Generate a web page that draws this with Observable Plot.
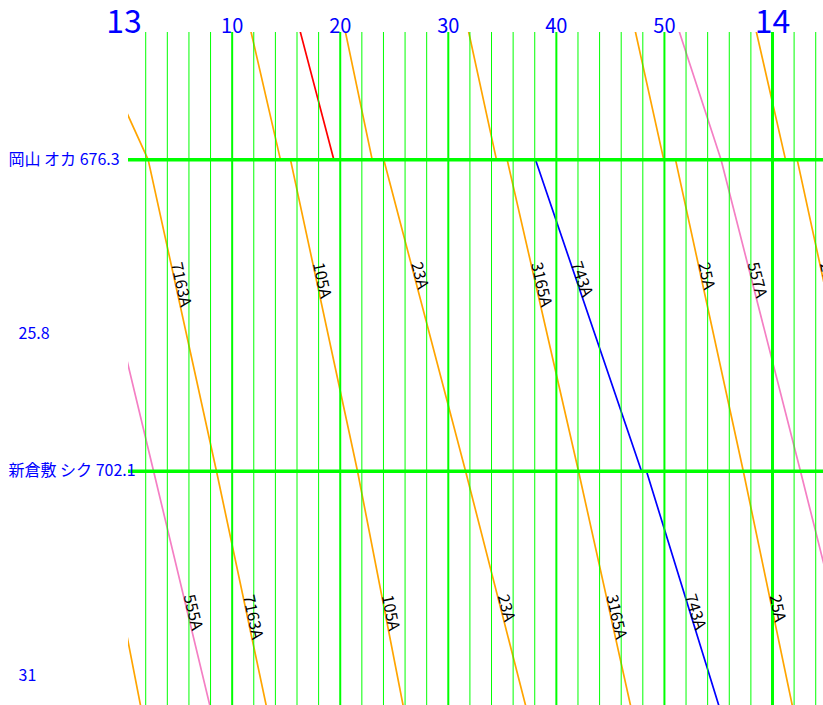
<!DOCTYPE html>
<html><head><meta charset="utf-8">
<script src="https://cdn.jsdelivr.net/npm/d3@7"></script>
<script src="https://cdn.jsdelivr.net/npm/@observablehq/plot@0.6"></script>
<style>body{margin:0;background:#fff} svg{display:block}</style>
</head><body><div id="chart"></div>
<script>
// ---- data ----
const stationNames = ["岡山", "新倉敷"];
const stationCodes = ["オカ", "シク"];
const stationKm = [676.3, 702.1];
const prevStationKm = 622.0;   // 相生 (outside view)
const nextStationKm = 733.1;   // 福山 (outside view)
const sectionKm = [25.8, 31];  // 岡山–新倉敷, 新倉敷–福山

const hourTicks = [0, 60];
const hourLabels = ["13", "14"];
const minuteTicks = [10, 20, 30, 40, 50];
const minuteLabels = ["10", "20", "30", "40", "50"];
const gridMinutes = d3.range(2, 65, 2);

// times in minutes after 13:00
const trainNames  = ["", "555A", "7163A", "105A", "", "23A", "3165A", "743A", "25A", "557A", "27A"];
const trainColors = ["#FFA500", "#F47FC4", "#FFA500", "#FFA500", "#FF0000", "#FFA500", "#FFA500", "#0000FF", "#FFA500", "#F47FC4", "#FFA500"];
const tAioi     = [-21.4, -18.7, -25.35, 0.51, 3.5, 10.25, 21.26, null, 36.5, 35.47, 47.36];
const tOkaArr   = [-8.7, -4.19, 2.23, 14.47, 19.41, 22.96, 34.46, null, 49.94, 55.24, 61.21];
const tOkaDep   = [-8.7, -4.19, 2.23, 15.40, null, 24.03, 35.45, 38.07, 51.03, 55.24, 62.29];
const tShikuArr = [-2.7, 2.73, 8.55, 21.6, null, 31.6, 42.05, 47.88, 57.3, 62.59, 68.55];
const tShikuDep = [-2.7, 2.73, 8.55, 21.6, null, 31.6, 42.05, 48.34, 57.3, 62.59, 68.55];
const tFukuyama = [4.04, 11.04, 15.9, 28.34, null, 40.47, 49.74, 59.03, 64.54, 71.3, 76.0];

// ---- layout ----
const W = 823, H = 705, mL = 128, mT = 32;
const xDomain = [0.407, 64.72];
const yDomain = [665.75, 721.51];
const kx = (W - mL) / (xDomain[1] - xDomain[0]);
const ky = (H - mT) / (yDomain[1] - yDomain[0]);

const points = [];
const labels = [];
trainNames.forEach((name, i) => {
  const seq = [
    [tAioi[i], prevStationKm], [tOkaArr[i], stationKm[0]], [tOkaDep[i], stationKm[0]],
    [tShikuArr[i], stationKm[1]], [tShikuDep[i], stationKm[1]], [tFukuyama[i], nextStationKm]
  ];
  seq.forEach(([t, km]) => { if (t != null) points.push({train: i, t, km, color: trainColors[i]}); });
  const segs = [[tOkaDep[i], stationKm[0], tShikuArr[i], stationKm[1]], [tShikuDep[i], stationKm[1], tFukuyama[i], nextStationKm]];
  segs.forEach(([t1, k1, t2, k2]) => {
    if (!name || t1 == null || t2 == null) return;
    const t = t1 + (t2 - t1) / 3;
    const px = mL + (t - xDomain[0]) * kx;
    if (px < mL - 20 || px > W - 1) return; // label entirely outside the frame
    labels.push({
      t, km: k1 + (k2 - k1) / 3, name,
      angle: Math.atan2((k2 - k1) * ky, (t2 - t1) * kx) * 180 / Math.PI
    });
  });
});

const sections = sectionKm.map((d, i) => ({d, km: ((i === 0 ? stationKm[0] : stationKm[1]) + (i === 0 ? stationKm[1] : nextStationKm)) / 2}));

const font = "'Noto Sans CJK JP', 'Noto Sans', sans-serif";
const chart = Plot.plot({
  width: W, height: H,
  marginLeft: mL, marginRight: 0, marginTop: mT, marginBottom: 0,
  style: {fontFamily: font, background: "#fff"},
  x: {domain: xDomain, axis: null},
  y: {domain: yDomain, range: [mT, H], axis: null},
  color: {type: "identity"},
  marks: [
    Plot.line(points, {x: "t", y: "km", z: "train", stroke: "color", strokeWidth: 1.7, clip: true}),
    Plot.ruleX(gridMinutes, {x: d => d, stroke: "#00ff00", strokeWidth: d => d % 60 === 0 ? 3 : d % 10 === 0 ? 2 : 1}),
    Plot.ruleY(stationKm, {y: d => d, stroke: "#00ff00", strokeWidth: 3.5}),
    Plot.text(labels, {x: "t", y: "km", text: "name", rotate: "angle", textAnchor: "start", lineAnchor: "bottom", fontSize: 16, fill: "black", clip: true}),
    Plot.text(stationKm, {y: d => d, text: (d, i) => `${stationNames[i]} ${stationCodes[i]} ${d}`, frameAnchor: "left", dx: -120, textAnchor: "start", lineAnchor: "middle", fill: "#0000ff", fontSize: 16}),
    Plot.text(sections, {y: "km", text: d => String(d.d), frameAnchor: "left", dx: -110, dy: 18, textAnchor: "start", lineAnchor: "middle", fill: "#0000ff", fontSize: 16}),
    Plot.text(hourTicks, {x: d => d, text: (d, i) => hourLabels[i], frameAnchor: "top", lineAnchor: "bottom", fill: "#0000ff", fontSize: 32}),
    Plot.text(minuteTicks, {x: d => d, text: (d, i) => minuteLabels[i], frameAnchor: "top", lineAnchor: "bottom", fill: "#0000ff", fontSize: 20})
  ]
});
document.getElementById("chart").appendChild(chart);
</script>
</body></html>
